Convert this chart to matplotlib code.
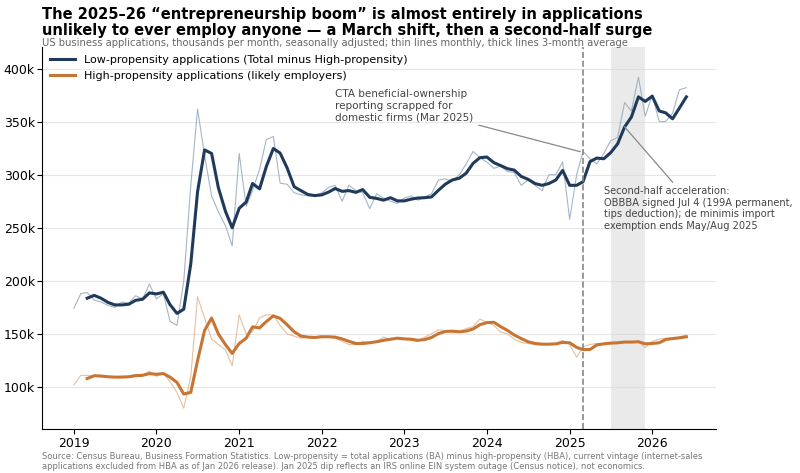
import matplotlib
matplotlib.use("Agg")
import matplotlib.pyplot as plt
import matplotlib.dates as mdates
import pandas as pd
import numpy as np

months = pd.date_range("2019-01-01", "2026-06-01", freq="MS")
low = [174,188,189,182,180,177,175,180,179,186,183,197,
       183,188,162,158,200,290,362,318,280,265,252,233,
       320,270,285,305,333,336,292,291,283,281,280,280,
       283,288,290,275,290,285,283,268,282,278,275,273,
       278,280,276,279,282,295,296,294,300,310,322,316,
       312,306,308,303,302,290,295,290,285,300,300,312,
       258,300,322,315,310,320,332,335,368,360,392,355,
       375,350,350,358,380,382]
high = [102,111,111,110,110,109,109,110,110,112,111,115,
        110,113,105,95,80,110,185,165,145,140,135,120,
        168,150,152,165,168,168,158,150,148,146,147,147,
        148,147,146,143,140,140,143,142,143,147,145,146,
        145,144,143,147,150,154,153,151,152,155,157,164,
        161,158,152,150,145,142,141,140,140,141,141,144,
        140,128,138,140,141,141,142,142,143,142,143,137,
        143,145,146,146,147,149]

df = pd.DataFrame({"low": low, "high": high}, index=months) * 1000
ma = df.rolling(3).mean()

navy = "#1f3a5a"; orange = "#c87533"
fig = plt.figure(figsize=(8, 4.73), dpi=100)
ax = fig.add_axes([0.053, 0.092, 0.842, 0.808])
ax.plot(df.index, df["low"], color="#8fa3b8", lw=0.8, alpha=0.8)
ax.plot(df.index, df["high"], color="#e0b08a", lw=0.8, alpha=0.8)
ax.plot(ma.index, ma["low"], color=navy, lw=2.2, label="Low-propensity applications (Total minus High-propensity)")
ax.plot(ma.index, ma["high"], color=orange, lw=2.2, label="High-propensity applications (likely employers)")

ax.axvspan(pd.Timestamp("2025-07-01"), pd.Timestamp("2025-12-01"), color="#d9d9d9", alpha=0.55, lw=0)
ax.axvline(pd.Timestamp("2025-03-01"), color="#888888", ls="--", lw=1.2)

ax.set_xlim(pd.Timestamp("2018-08-15"), pd.Timestamp("2026-10-10"))
ax.set_ylim(60000, 420000)
ax.set_yticks([100000,150000,200000,250000,300000,350000,400000])
ax.yaxis.set_major_formatter(matplotlib.ticker.FuncFormatter(lambda v, p: f"{int(v/1000)}k"))
ax.xaxis.set_major_locator(mdates.YearLocator())
ax.xaxis.set_major_formatter(mdates.DateFormatter("%Y"))
ax.tick_params(labelsize=9, pad=2)
ax.grid(axis="y", color="#e6e6e6", lw=0.8)
ax.set_axisbelow(True)
for s in ["top", "right"]:
    ax.spines[s].set_visible(False)

ax.legend(loc="upper left", frameon=False, fontsize=8, handlelength=2.2, borderaxespad=0.3)

ax.annotate("CTA beneficial-ownership\nreporting scrapped for\ndomestic firms (Mar 2025)",
            xy=(pd.Timestamp("2025-03-01"), 321000), xytext=(pd.Timestamp("2022-03-01"), 365000),
            fontsize=7.5, color="#444444", va="center",
            arrowprops=dict(arrowstyle="-", color="#888888", lw=0.9))
ax.text(pd.Timestamp("2025-06-01"), 268000,
        "Second-half acceleration:\nOBBBA signed Jul 4 (199A permanent,\ntips deduction); de minimis import\nexemption ends May/Aug 2025",
        fontsize=7.1, color="#444444", va="center")
ax.plot([pd.Timestamp("2025-09-01"), pd.Timestamp("2026-04-01")], [345000, 293000], color="#888888", lw=0.9)

fig.text(0.053, 0.985, "The 2025–26 “entrepreneurship boom” is almost entirely in applications\nunlikely to ever employ anyone — a March shift, then a second-half surge",
         fontsize=10.5, fontweight="bold", va="top", ha="left", linespacing=1.05)
fig.text(0.053, 0.898, "US business applications, thousands per month, seasonally adjusted; thin lines monthly, thick lines 3-month average",
         fontsize=7.2, color="#666666", va="bottom")
fig.text(0.053, 0.004, "Source: Census Bureau, Business Formation Statistics. Low-propensity = total applications (BA) minus high-propensity (HBA), current vintage (internet-sales\napplications excluded from HBA as of Jan 2026 release). Jan 2025 dip reflects an IRS online EIN system outage (Census notice), not economics.",
         fontsize=6.0, color="#777777", va="bottom")
fig.savefig("out.png", dpi=100)
